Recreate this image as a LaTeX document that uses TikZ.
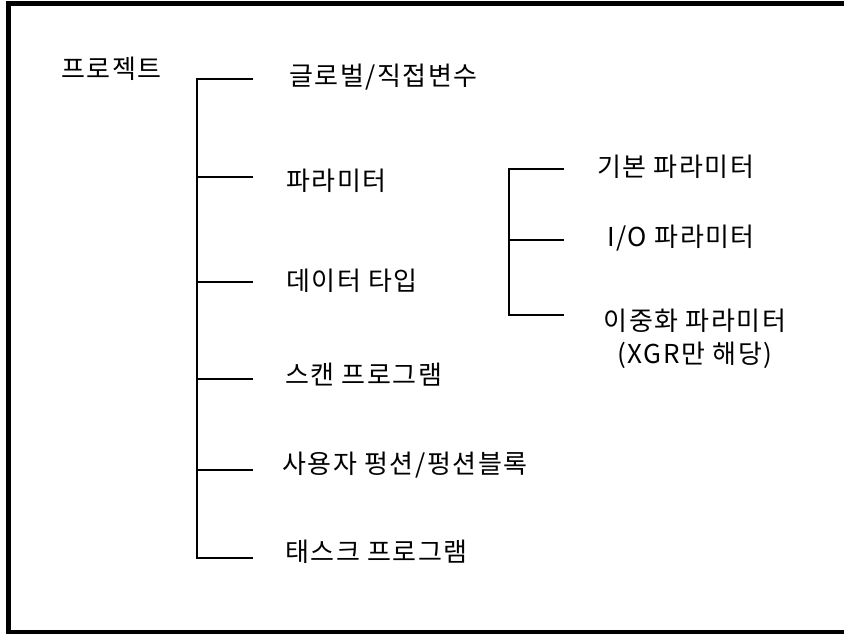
\documentclass[tikz,border=0pt]{standalone}
\usepackage{fontspec}
\setmainfont{Noto Sans CJK KR}[LetterSpace=6]
\begin{document}
\begin{tikzpicture}[x=1pt,y=-1pt,
  lbl/.style={anchor=west,inner sep=0pt,font=\fontsize{26}{33}\selectfont,text height=0.8em,text depth=0.06em},
  tree/.style={line width=2pt,line cap=rect},
  frame/.style={line width=5pt}]
\useasboundingbox (0,0) rectangle (844,634);
\clip (0,0) rectangle (844,634);
\fill[white] (0,0) rectangle (844,634);
% frame (right side cropped off)
\draw[frame] (900,3.5) -- (8.5,3.5) -- (8.5,632.5) -- (900,632.5);
% root
\node[lbl] (root) at (61,75) {프로젝트};
% children
\node[lbl] (n1) at (289,82) {글로벌/직접변수};
\node[lbl] (n2) at (286,187) {파라미터};
\node[lbl] (n3) at (286,287) {데이터 타입};
\node[lbl] (n4) at (285,381) {스캔 프로그램};
\node[lbl] (n5) at (282,470) {사용자 펑션/펑션블록};
\node[lbl] (n6) at (285,558) {태스크 프로그램};
% branch points
\coordinate (b1) at (197,79);
\coordinate (b2) at (197,177);
\coordinate (b3) at (197,282);
\coordinate (b4) at (197,379);
\coordinate (b5) at (197,470);
\coordinate (b6) at (197,558);
\draw[tree] (b1) -- (b6);
\foreach \i in {1,...,6} \draw[tree] (b\i) -- ++(55,0);
% sub tree
\node[lbl] (s1) at (597,173) {기본 파라미터};
\node[lbl] (s2) at (607,243) {I/O 파라미터};
\node[anchor=center,inner sep=0pt,align=center,font=\fontsize{26}{33}\selectfont] (s3) at (695,339) {이중화 파라미터\\(XGR만 해당)};
\coordinate (c1) at (509,169);
\coordinate (c2) at (509,240);
\coordinate (c3) at (509,315);
\draw[tree] (c1) -- (c3);
\foreach \i in {1,2,3} \draw[tree] (c\i) -- ++(54,0);
\end{tikzpicture}
\end{document}
